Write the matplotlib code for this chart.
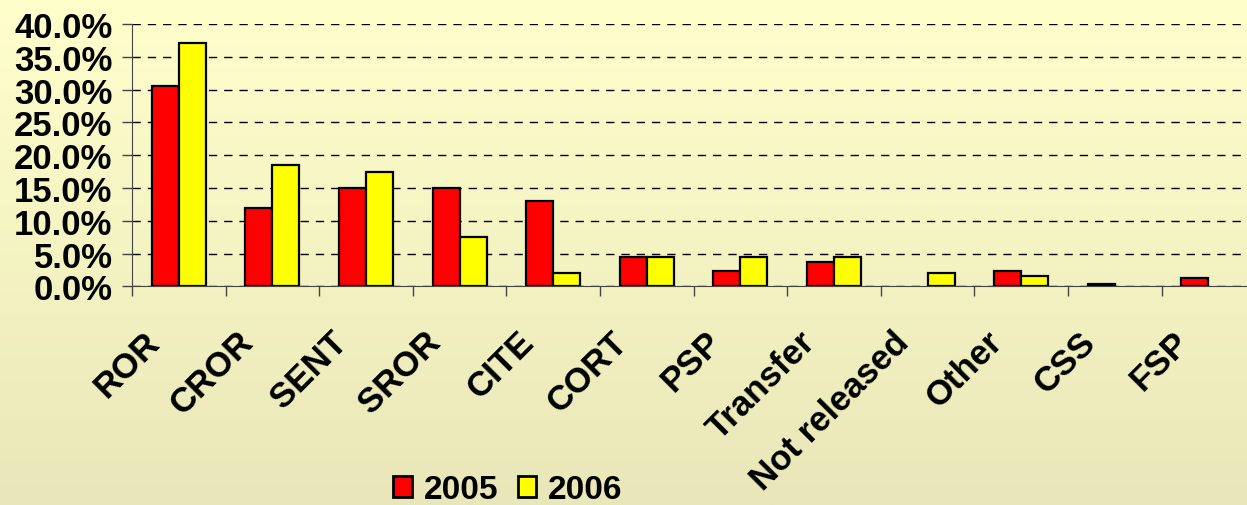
import matplotlib
matplotlib.use("Agg")
import matplotlib.pyplot as plt
import matplotlib.transforms as mtransforms
import numpy as np
from matplotlib.colors import LinearSegmentedColormap

plt.rcParams["font.family"] = ["Liberation Sans", "DejaVu Sans"]
plt.rcParams["font.weight"] = "bold"

categories = ["ROR", "CROR", "SENT", "SROR", "CITE", "CORT", "PSP",
              "Transfer", "Not released", "Other", "CSS", "FSP"]
values_2005 = [30.5, 11.9, 15.0, 15.0, 13.0, 4.5, 2.4, 3.7, 0.0, 2.4, 0.3, 1.2]
values_2006 = [37.1, 18.5, 17.5, 7.5, 2.0, 4.5, 4.5, 4.5, 2.1, 1.6, 0.0, 0.0]
series_labels = ["2005", "2006"]
y_ticks = [0, 5, 10, 15, 20, 25, 30, 35, 40]


def main():
    fig = plt.figure(figsize=(12.47, 5.06), dpi=100)

    # background gradient over the whole figure
    bg = fig.add_axes([0, 0, 1, 1], zorder=-10)
    cmap = LinearSegmentedColormap.from_list("bg", ["#ffffcc", "#e9e7b9"])
    grad = np.linspace(0, 1, 256).reshape(-1, 1)
    bg.imshow(grad, aspect="auto", cmap=cmap, extent=[0, 1, 0, 1])
    bg.axis("off")

    ax = fig.add_axes([0.1059, 0.4322, 0.9006, 0.5184])
    ax.patch.set_alpha(0)

    x = np.arange(len(categories))
    w = 0.289
    b1 = ax.bar(x - w / 2, values_2005, w, color="#ff0000", edgecolor="black",
                linewidth=1.6, label=series_labels[0], zorder=3)
    b2 = ax.bar(x + w / 2, values_2006, w, color="#ffff00", edgecolor="black",
                linewidth=1.6, label=series_labels[1], zorder=3)
    # empty values get no outline
    for bars in (b1, b2):
        for p in bars:
            if p.get_height() == 0:
                p.set_visible(False)

    ax.set_xlim(-0.5, len(categories) - 0.5)
    ax.set_ylim(0, 40)

    ax.set_yticks(y_ticks)
    ax.set_yticklabels([f"{v:.1f}%" for v in y_ticks], fontsize=25,
                       fontweight="bold")
    ax.yaxis.grid(True, linestyle=(0, (6, 5)), color="black", linewidth=1.0)
    ax.set_axisbelow(True)

    # labels at centres, tick marks at boundaries
    ax.set_xticks(x)
    ax.set_xticks(np.arange(len(categories) + 1) - 0.5, minor=True)
    ax.set_xticklabels(categories, fontsize=25, fontweight="bold",
                       rotation=45, ha="right", va="center",
                       rotation_mode="anchor")
    ax.tick_params(axis="x", which="major", length=0, pad=36)
    ax.tick_params(axis="x", which="minor", length=7, width=1, color="#444444")
    ax.tick_params(axis="y", length=7, width=1, pad=7, color="#444444")
    shift = mtransforms.ScaledTranslation(-24 / 100, 0, fig.dpi_scale_trans)
    for lab in ax.get_xticklabels():
        lab.set_transform(lab.get_transform() + shift)

    for s in ["top", "right"]:
        ax.spines[s].set_visible(False)
    ax.spines["left"].set_color("#444444")
    ax.spines["bottom"].set_color("#444444")

    leg = fig.legend(loc="center", bbox_to_anchor=(508 / 1247, 1 - 491 / 506),
                     ncol=2, frameon=False, handlelength=0.55,
                     handleheight=0.6, handletextpad=0.35, columnspacing=0.6,
                     prop={"weight": "bold", "size": 24})
    for h in leg.legend_handles:
        h.set_linewidth(2)

    fig.savefig("out.png", dpi=100)


if __name__ == "__main__":
    main()
